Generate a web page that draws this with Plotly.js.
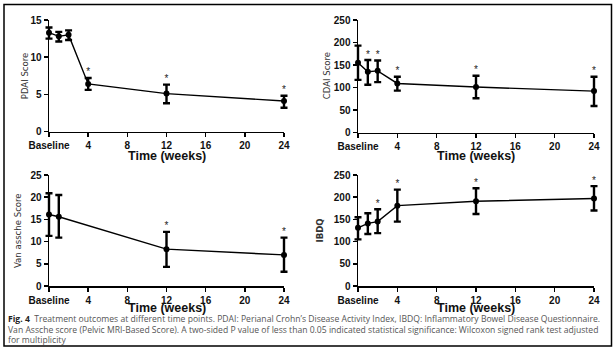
<!DOCTYPE html>
<html>
<head>
<meta charset="utf-8">
<script src="https://cdn.plot.ly/plotly-3.0.1.min.js"></script>
<style>html,body{margin:0;padding:0;background:#fff;}#chart{width:616px;height:350px;}</style>
</head>
<body>
<div id="chart"></div>
<script>
// ---- data ----
var xTickVals = [0, 4, 8, 12, 16, 20, 24];
var xTickText = ['Baseline', '4', '8', '12', '16', '20', '24'];

var pdaiWeeks = [0, 1, 2, 4, 12, 24];
var pdaiMean  = [13.3, 12.8, 13.0, 6.4, 5.1, 4.1];
var pdaiPlus  = [0.7, 0.6, 0.6, 0.8, 1.2, 0.7];
var pdaiMinus = [0.8, 0.7, 0.7, 0.8, 1.3, 0.9];
var pdaiSig   = [false, false, false, true, true, true];

var cdaiWeeks = [0, 1, 2, 4, 12, 24];
var cdaiMean  = [155, 135, 137, 109, 101, 92];
var cdaiPlus  = [38, 26, 23, 15, 25, 32];
var cdaiMinus = [38, 29, 25, 16, 25, 33];
var cdaiSig   = [false, true, true, true, true, true];

var vaWeeks = [0, 1, 12, 24];
var vaMean  = [16.1, 15.6, 8.3, 7.0];
var vaPlus  = [4.8, 4.9, 3.9, 3.9];
var vaMinus = [4.8, 4.7, 4.0, 3.8];
var vaSig   = [false, false, true, true];

var ibdqWeeks = [0, 1, 2, 4, 12, 24];
var ibdqMean  = [131, 141, 145, 181, 191, 197];
var ibdqPlus  = [24, 23, 28, 36, 29, 28];
var ibdqMinus = [26, 24, 26, 36, 29, 27];
var ibdqSig   = [false, false, true, true, true, true];

var yTitles = ['PDAI Score', 'CDAI Score', 'Van assche Score', 'IBDQ'];
var xTitle = 'Time (weeks)';
var captionLines = [
  '<b style="color:#222">Fig. 4</b>  Treatment outcomes at different time points. PDAI: Perianal Crohn\u2019s Disease Activity Index, IBDQ: Inflammatory Bowel Disease Questionnaire.',
  'Van Assche score (Pelvic MRI-Based Score). A two-sided P value of less than 0.05 indicated statistical significance: Wilcoxon signed rank test adjusted',
  'for multiplicity'
];

// ---- layout helpers ----
var W = 616, H = 350;
function px(x) { return x / W; }
function py(y) { return 1 - y / H; }

var panels = [
  {wk: pdaiWeeks, m: pdaiMean, p: pdaiPlus, n: pdaiMinus, s: pdaiSig, yr: [0, 15],  dt: 5},
  {wk: cdaiWeeks, m: cdaiMean, p: cdaiPlus, n: cdaiMinus, s: cdaiSig, yr: [0, 250], dt: 50},
  {wk: vaWeeks,   m: vaMean,   p: vaPlus,   n: vaMinus,   s: vaSig,   yr: [0, 25],  dt: 5},
  {wk: ibdqWeeks, m: ibdqMean, p: ibdqPlus, n: ibdqMinus, s: ibdqSig, yr: [0, 250], dt: 50}
];

// pixel boxes of each plotting area [left, right, top, bottom]
var boxes = [
  [49, 284, 20, 131.5],
  [358, 594, 20, 132.5],
  [49, 284, 175, 286],
  [358, 594, 175, 286]
];
var xTitleOffset = [24, 23, 22, 22];
var PAD = 10; // px of extra room so end error bars are not clipped

var layout = {
  width: W, height: H,
  margin: {l: 0, r: 0, t: 0, b: 0},
  paper_bgcolor: '#fff', plot_bgcolor: 'rgba(0,0,0,0)',
  showlegend: false,
  shapes: [{type: 'rect', xref: 'paper', yref: 'paper',
            x0: px(4), x1: px(611.5), y0: py(346), y1: py(4.5),
            line: {color: '#000', width: 1.5}}],
  annotations: []
};

var traces = [];
var tickFont = {family: 'Liberation Sans', size: 10, color: '#111', weight: 'bold'};

panels.forEach(function (P, i) {
  var b = boxes[i];
  var sfx = i === 0 ? '' : String(i + 1);
  var dsfx = String(i + 5);
  var padW = PAD * 24 / (b[1] - b[0]);
  // visible axes
  layout['xaxis' + sfx] = {
    domain: [px(b[0]), px(b[1])], anchor: 'y' + sfx,
    range: [0, 24], tickmode: 'array', tickvals: xTickVals, ticktext: xTickText,
    showgrid: false, zeroline: false, showline: true, linecolor: '#000', linewidth: 1.5,
    ticks: 'outside', ticklen: 4, tickwidth: 1.5, tickcolor: '#000',
    tickfont: tickFont, fixedrange: true
  };
  layout['yaxis' + sfx] = {
    domain: [py(b[3]), py(b[2])], anchor: 'x' + sfx,
    range: P.yr, dtick: P.dt, tick0: 0,
    showgrid: false, zeroline: false, showline: true, linecolor: '#000', linewidth: 1.5,
    ticks: 'outside', ticklen: 4, tickwidth: 1.5, tickcolor: '#000',
    tickfont: tickFont, fixedrange: true
  };
  // hidden, slightly wider x axis with identical scale that carries the data
  layout['xaxis' + dsfx] = {
    domain: [px(b[0] - PAD), px(b[1] + PAD)], anchor: 'y' + sfx,
    range: [-padW, 24 + padW], visible: false, showgrid: false, zeroline: false, fixedrange: true
  };
  traces.push({
    type: 'scatter', mode: 'lines', x: [0, 24], y: [null, null],
    xaxis: 'x' + sfx, yaxis: 'y' + sfx, showlegend: false, hoverinfo: 'skip'
  });
  traces.push({
    type: 'scatter', mode: 'lines+markers',
    x: P.wk, y: P.m, xaxis: 'x' + dsfx, yaxis: 'y' + sfx,
    line: {color: '#000', width: 1.4},
    marker: {color: '#000', size: 6},
    error_y: {type: 'data', symmetric: false, array: P.p, arrayminus: P.n,
              color: '#000', thickness: 2.4, width: 3.5},
    cliponaxis: false, showlegend: false, hoverinfo: 'skip'
  });
  var sx = [], sy = [];
  P.wk.forEach(function (w, k) {
    if (P.s[k]) { sx.push(w); sy.push(P.m[k] + P.p[k]); }
  });
  traces.push({
    type: 'scatter', mode: 'text', x: sx, y: sy, text: sx.map(function(){return '*';}),
    textposition: 'top center', textfont: {family: 'Liberation Sans', size: 10, color: '#222'},
    xaxis: 'x' + dsfx, yaxis: 'y' + sfx, cliponaxis: false, showlegend: false, hoverinfo: 'skip'
  });
  // x title
  layout.annotations.push({
    xref: 'paper', yref: 'paper', x: px((b[0] + b[1]) / 2), y: py(b[3] + xTitleOffset[i]),
    xanchor: 'center', yanchor: 'middle', showarrow: false, text: xTitle, borderpad: 0,
    font: {family: 'Liberation Sans', size: 12.5, color: '#111', weight: 'bold'}
  });
});

// y titles
var yTitleX = [24.5, 326, 17.5, 319];
panels.forEach(function (P, i) {
  var b = boxes[i];
  layout.annotations.push({
    xref: 'paper', yref: 'paper', x: px(yTitleX[i]), y: py((b[2] + b[3]) / 2),
    xanchor: 'center', yanchor: 'middle', showarrow: false, textangle: -90, borderpad: 0,
    text: yTitles[i],
    font: {family: 'DejaVu Sans Condensed, Liberation Sans, sans-serif', size: 9.5, color: '#333',
           weight: i === 3 ? 'bold' : 'normal'}
  });
});

// caption
var capY = [318.5, 329.5, 340];
captionLines.forEach(function (t, i) {
  layout.annotations.push({
    xref: 'paper', yref: 'paper', x: px(7), y: py(capY[i]),
    xanchor: 'left', yanchor: 'middle', showarrow: false, align: 'left', borderpad: 0,
    text: t, font: {family: 'Open Sans', size: 8.6, color: '#555'}
  });
});

Plotly.newPlot('chart', traces, layout, {displayModeBar: false, staticPlot: true});
</script>
</body>
</html>
